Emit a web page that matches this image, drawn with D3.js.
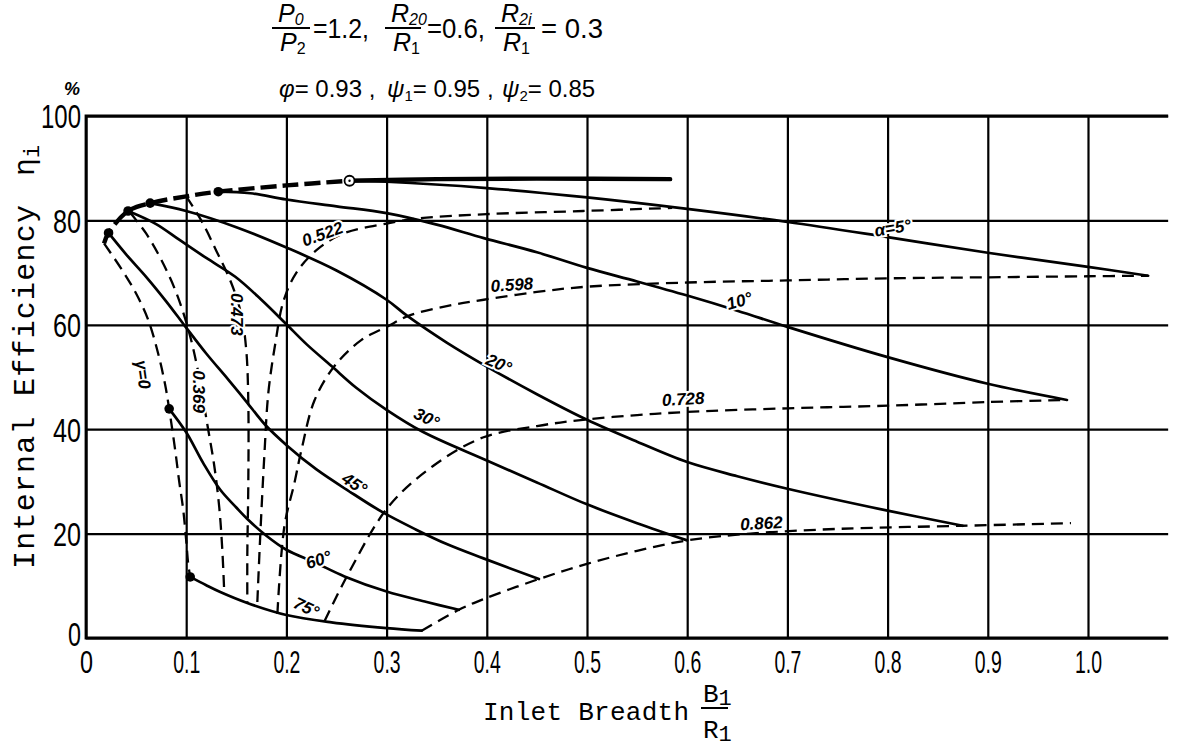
<!DOCTYPE html>
<html>
<head>
<meta charset="utf-8">
<script src="https://cdn.jsdelivr.net/npm/d3@7"></script>
<style>
  body { margin: 0; background: #fff; }
  svg { display: block; }
</style>
</head>
<body>
<svg id="chart" width="1194" height="749"></svg>
<script>
// ---- axis ticks ----
const xTickValues = [0, 0.1, 0.2, 0.3, 0.4, 0.5, 0.6, 0.7, 0.8, 0.9, 1.0];
const xTickLabels = ["0", "0.1", "0.2", "0.3", "0.4", "0.5", "0.6", "0.7", "0.8", "0.9", "1.0"];
const yTickValues = [0, 20, 40, 60, 80, 100];
const yTickLabels = ["0", "20", "40", "60", "80", "100"];
const xGridEnd = 1.08;

// ---- optimum envelope (B1/R1, efficiency %) ----
const envelopeBroken = [[0.018, 75.6], [0.0225, 77.6], [0.042, 81.8], [0.064, 83.3], [0.1, 84.6], [0.132, 85.5], [0.2, 86.7], [0.263, 87.6]];
const envelopeSolid = [[0.263, 87.6], [0.35, 87.9], [0.45, 88.0], [0.583, 87.9]];
const optimumDots = [[0.0225, 77.6], [0.042, 81.8], [0.064, 83.3], [0.132, 85.5], [0.083, 43.9], [0.104, 11.7]];
const openDot = [0.263, 87.6];

// ---- constant blade-angle curves (solid) ----
const alpha5 = [[0.263, 87.6], [0.3, 87.4], [0.4, 86.2], [0.5, 84.4], [0.6, 82.2], [0.7, 79.7], [0.8, 76.8], [0.9, 73.8], [1.0, 71.1], [1.06, 69.4]];
const alpha10 = [[0.132, 85.5], [0.164, 85.2], [0.2, 84.0], [0.25, 82.7], [0.3, 81.4], [0.35, 79.2], [0.397, 76.6], [0.45, 73.9], [0.5, 70.9], [0.55, 68.3], [0.6, 65.6], [0.65, 62.7], [0.7, 59.6], [0.8, 53.8], [0.9, 48.7], [0.979, 45.6]];
const alpha20 = [[0.064, 83.3], [0.1, 81.8], [0.15, 78.7], [0.2, 74.8], [0.25, 70.4], [0.3, 64.8], [0.32, 61.8], [0.36, 56.6], [0.4, 52.0], [0.45, 46.7], [0.5, 41.8], [0.55, 37.6], [0.6, 33.7], [0.65, 31.0], [0.7, 28.6], [0.8, 24.4], [0.875, 21.5]];
const alpha30 = [[0.042, 81.8], [0.07, 79.3], [0.093, 76.3], [0.12, 72.8], [0.149, 69.2], [0.175, 64.8], [0.199, 60.3], [0.22, 56.3], [0.245, 52.1], [0.27, 47.9], [0.3, 43.7], [0.336, 39.5], [0.4, 34.0], [0.45, 29.8], [0.5, 25.6], [0.55, 22.0], [0.6, 18.7]];
const alpha45 = [[0.0225, 77.6], [0.04, 73.5], [0.06, 69.2], [0.08, 64.5], [0.099, 59.7], [0.12, 54.5], [0.142, 49.5], [0.16, 45.3], [0.179, 40.8], [0.201, 36.8], [0.23, 32.3], [0.262, 28.2], [0.295, 24.2], [0.329, 20.8], [0.36, 18.0], [0.396, 15.3], [0.452, 11.3]];
const alpha60 = [[0.083, 43.9], [0.1, 39.4], [0.117, 33.5], [0.134, 28.4], [0.15, 25.0], [0.161, 22.8], [0.18, 19.6], [0.2, 16.9], [0.228, 14.5], [0.258, 11.8], [0.3, 8.9], [0.34, 6.9], [0.372, 5.4]];
const alpha75 = [[0.104, 11.7], [0.12, 10.1], [0.134, 8.8], [0.161, 6.7], [0.2, 4.4], [0.245, 3.0], [0.3, 1.9], [0.335, 1.4]];

// ---- constant gamma curves (dashed) ----
const gamma0 = [[0.018, 75.6], [0.036, 70.5], [0.05, 66.0], [0.062, 61.0], [0.072, 54.5], [0.079, 48.5], [0.083, 43.9], [0.089, 36.0], [0.093, 30.0], [0.097, 24.6], [0.1, 18.7], [0.102, 14.2], [0.104, 11.7]];
const gamma369 = [[0.044, 81.5], [0.06, 77.5], [0.075, 72.5], [0.09, 66.2], [0.103, 58.5], [0.113, 50.0], [0.121, 41.0], [0.128, 33.0], [0.133, 25.0], [0.136, 17.0], [0.138, 8.6]];
const gamma473 = [[0.1, 84.6], [0.115, 80.0], [0.13, 74.2], [0.145, 68.0], [0.155, 62.0], [0.16, 55.0], [0.162, 45.0], [0.162, 30.0], [0.161, 16.0], [0.161, 6.7]];
const gamma522 = [[0.171, 6.9], [0.174, 20.0], [0.178, 35.0], [0.182, 47.0], [0.189, 56.5], [0.197, 64.5], [0.21, 70.0], [0.23, 74.3], [0.257, 77.5], [0.3, 79.4], [0.333, 80.4], [0.4, 81.2], [0.496, 81.8], [0.585, 82.4]];
const gamma598 = [[0.191, 4.6], [0.198, 21.4], [0.208, 29.7], [0.215, 36.0], [0.228, 45.5], [0.248, 52.1], [0.275, 57.1], [0.3, 59.6], [0.323, 61.8], [0.36, 63.6], [0.397, 64.8], [0.45, 66.3], [0.5, 67.3], [0.6, 68.1], [0.7, 68.5], [0.8, 68.9], [0.9, 69.1], [1.0, 69.3], [1.06, 69.4]];
const gamma728 = [[0.238, 3.2], [0.262, 12.4], [0.302, 25.2], [0.346, 32.9], [0.396, 38.4], [0.45, 40.6], [0.496, 41.8], [0.55, 42.7], [0.6, 43.3], [0.7, 44.0], [0.8, 44.5], [0.9, 45.2], [0.979, 45.6]];
const gamma862 = [[0.335, 1.4], [0.372, 5.4], [0.396, 7.4], [0.452, 11.3], [0.5, 14.2], [0.55, 16.7], [0.6, 18.7], [0.663, 20.0], [0.75, 20.9], [0.875, 21.5], [0.983, 22.0]];

// ---- curve labels: text, anchor (B1/R1, %), rotation ----
const alphaLabels = [
  ["α=5°", 0.805, 78.6, -9],
  ["10°", 0.652, 64.6, -16],
  ["20°", 0.412, 52.6, 24],
  ["30°", 0.34, 42.2, 26],
  ["45°", 0.268, 29.6, 34],
  ["60°", 0.232, 15.0, -18],
  ["75°", 0.22, 5.9, 26]
];
const gammaLabels = [
  ["γ=0", 0.057, 50.5, 82],
  ["0.369", 0.113, 47.2, 90],
  ["0.473", 0.151, 62.0, 90],
  ["0.522", 0.236, 77.4, -20],
  ["0.598", 0.425, 67.7, -4],
  ["0.728", 0.596, 45.8, -3],
  ["0.862", 0.674, 22.0, -3]
];

// ---- scales ----
const svg = d3.select("#chart");
const x = d3.scaleLinear().domain([0, 1]).range([86, 1088]);
const y = d3.scaleLinear().domain([0, 100]).range([638, 116]);
const x0 = x(0), xEnd = x(xGridEnd), yTop = y(100), yBot = y(0);

const SANS = "'Liberation Sans', Arial, sans-serif";
const MONO = "'Liberation Mono', 'Courier New', monospace";

// ---- grid via axes ----
const xAxis = d3.axisBottom(x)
  .tickValues(xTickValues)
  .tickFormat((d, i) => xTickLabels[i])
  .tickSize(-(yBot - yTop));
const gx = svg.append("g").attr("transform", `translate(0,${yBot})`).call(xAxis);
gx.select(".domain").remove();
gx.selectAll(".tick line").attr("stroke", "#000").attr("stroke-width", 2.2);
gx.selectAll(".tick text")
  .attr("font-family", SANS).attr("font-size", 32).attr("fill", "#000")
  .attr("y", 12).attr("dy", "0.71em")
  .attr("textLength", (d, i) => xTickLabels[i].length === 1 ? 13 : 27)
  .attr("lengthAdjust", "spacingAndGlyphs");

const yAxis = d3.axisLeft(y)
  .tickValues(yTickValues)
  .tickFormat((d, i) => yTickLabels[i])
  .tickSize(-(xEnd - x0))
  .tickPadding(5);
const gy = svg.append("g").attr("transform", `translate(${x0},0)`).call(yAxis);
gy.select(".domain").remove();
gy.selectAll(".tick line").attr("stroke", "#000").attr("stroke-width", 2.2);
gy.selectAll(".tick text")
  .attr("font-family", SANS).attr("font-size", 33).attr("fill", "#000")
  .attr("dy", (d, i) => i === 0 ? "0.22em" : "0.36em")
  .attr("textLength", (d, i) => [13, 28, 28, 28, 28, 40][i])
  .attr("lengthAdjust", "spacingAndGlyphs");

// frame: left, bottom and top edges
svg.append("path")
  .attr("d", `M${xEnd},${yTop}H${x0}V${yBot}H${xEnd}`)
  .attr("fill", "none").attr("stroke", "#000").attr("stroke-width", 2.8);

svg.append("text").attr("x", 72).attr("y", 95)
  .attr("font-family", SANS).attr("font-style", "italic").attr("font-weight", "bold")
  .attr("font-size", 18).attr("text-anchor", "middle").text("%");

// ---- curves ----
const line = d3.line()
  .x(d => x(d[0])).y(d => y(d[1]))
  .curve(d3.curveCatmullRom.alpha(0.5));
const plot = svg.append("g").attr("fill", "none").attr("stroke", "#000")
  .attr("stroke-linecap", "round").attr("stroke-linejoin", "round");

[gamma0, gamma369, gamma473, gamma522, gamma598, gamma728, gamma862].forEach(c => {
  plot.append("path").attr("d", line(c))
    .attr("stroke-width", 2.3).attr("stroke-dasharray", "12,7").attr("stroke-linecap", "butt");
});
[alpha5, alpha10, alpha20, alpha30, alpha45, alpha60, alpha75].forEach(c => {
  plot.append("path").attr("d", line(c)).attr("stroke-width", 2.7);
});
plot.append("path").attr("d", line(envelopeBroken))
  .attr("stroke-width", 4.4).attr("stroke-dasharray", "16,6").attr("stroke-linecap", "butt");
plot.append("path").attr("d", line(envelopeSolid)).attr("stroke-width", 4.4);

svg.append("g").selectAll("circle").data(optimumDots).join("circle")
  .attr("cx", d => x(d[0])).attr("cy", d => y(d[1])).attr("r", 4.8).attr("fill", "#000");
svg.append("circle").attr("cx", x(openDot[0])).attr("cy", y(openDot[1])).attr("r", 5)
  .attr("fill", "#fff").attr("stroke", "#000").attr("stroke-width", 1.8);
svg.append("circle").attr("cx", x(openDot[0])).attr("cy", y(openDot[1])).attr("r", 1.2).attr("fill", "#000");

// ---- curve labels ----
function drawLabels(list) {
  svg.append("g").selectAll("text").data(list).join("text")
    .attr("transform", d => `translate(${x(d[1])},${y(d[2])}) rotate(${d[3]})`)
    .attr("text-anchor", "middle").attr("dy", "0.35em")
    .attr("font-family", SANS).attr("font-weight", "bold").attr("font-style", "italic")
    .attr("font-size", 17).attr("fill", "#000")
    .attr("stroke", "#fff").attr("stroke-width", 4).attr("paint-order", "stroke")
    .text(d => d[0]);
}
drawLabels(alphaLabels);
drawLabels(gammaLabels);

// ---- axis titles ----
svg.append("text")
  .attr("transform", "translate(34,569) rotate(-90)")
  .attr("font-family", MONO).attr("font-size", 30).attr("fill", "#000")
  .attr("textLength", 364).attr("lengthAdjust", "spacing")
  .text("Internal Efficiency");
const eta = svg.append("text")
  .attr("transform", "translate(34,176) rotate(-90)")
  .attr("font-family", MONO).attr("font-size", 30).attr("fill", "#000");
eta.append("tspan").text("η");
eta.append("tspan").attr("font-size", 22).attr("dy", 5).text("i");

svg.append("text").attr("x", 483).attr("y", 720)
  .attr("font-family", MONO).attr("font-size", 26).attr("fill", "#000")
  .attr("textLength", 206).attr("lengthAdjust", "spacing")
  .text("Inlet Breadth");
const bNum = svg.append("text").attr("x", 703).attr("y", 702)
  .attr("font-family", MONO).attr("font-size", 26).attr("fill", "#000");
bNum.append("tspan").text("B");
bNum.append("tspan").attr("font-size", 22).attr("dy", 3).text("1");
svg.append("line").attr("x1", 701).attr("x2", 728).attr("y1", 708).attr("y2", 708)
  .attr("stroke", "#000").attr("stroke-width", 2);
const rDen = svg.append("text").attr("x", 703).attr("y", 738)
  .attr("font-family", MONO).attr("font-size", 26).attr("fill", "#000");
rDen.append("tspan").text("R");
rDen.append("tspan").attr("font-size", 22).attr("dy", 3).text("1");

// ---- parameter heading ----
const head = svg.append("g").attr("font-family", SANS).attr("fill", "#000");
function fraction(xl, xr, num, numSub, den, denSub) {
  const n = head.append("text").attr("x", xl + 6).attr("y", 22).attr("font-size", 25);
  n.append("tspan").attr("font-style", "italic").text(num);
  n.append("tspan").attr("font-size", 16).attr("dy", 3).attr("font-style", "italic").text(numSub);
  head.append("line").attr("x1", xl).attr("x2", xr).attr("y1", 28).attr("y2", 28)
    .attr("stroke", "#000").attr("stroke-width", 2);
  const d = head.append("text").attr("x", xl + 8).attr("y", 51).attr("font-size", 25);
  d.append("tspan").attr("font-style", "italic").text(den);
  d.append("tspan").attr("font-size", 16).attr("dy", 3).text(denSub);
}
fraction(272, 310, "P", "0", "P", "2");
head.append("text").attr("x", 313).attr("y", 38).attr("font-size", 27)
  .attr("textLength", 56).attr("lengthAdjust", "spacingAndGlyphs").text("=1.2,");
fraction(385, 421, "R", "20", "R", "1");
head.append("text").attr("x", 427).attr("y", 38).attr("font-size", 27)
  .attr("textLength", 58).attr("lengthAdjust", "spacingAndGlyphs").text("=0.6,");
fraction(495, 535, "R", "2i", "R", "1");
head.append("text").attr("x", 541).attr("y", 38).attr("font-size", 27)
  .attr("textLength", 62).attr("lengthAdjust", "spacingAndGlyphs").text("= 0.3");

// second heading line: velocity / loss coefficients
function coeff(xPos, symbol, sub, rest) {
  const t = head.append("text").attr("x", xPos).attr("y", 97).attr("font-size", 24);
  t.append("tspan").attr("font-style", "italic").text(symbol);
  if (sub) {
    t.append("tspan").attr("font-size", 15).attr("dy", 4).text(sub);
    t.append("tspan").attr("dy", -4).text(rest);
  } else {
    t.append("tspan").text(rest);
  }
}
coeff(279, "φ", null, "= 0.93 ,");
coeff(387, "ψ", "1", "= 0.95 ,");
coeff(502, "ψ", "2", "= 0.85");
</script>
</body>
</html>
